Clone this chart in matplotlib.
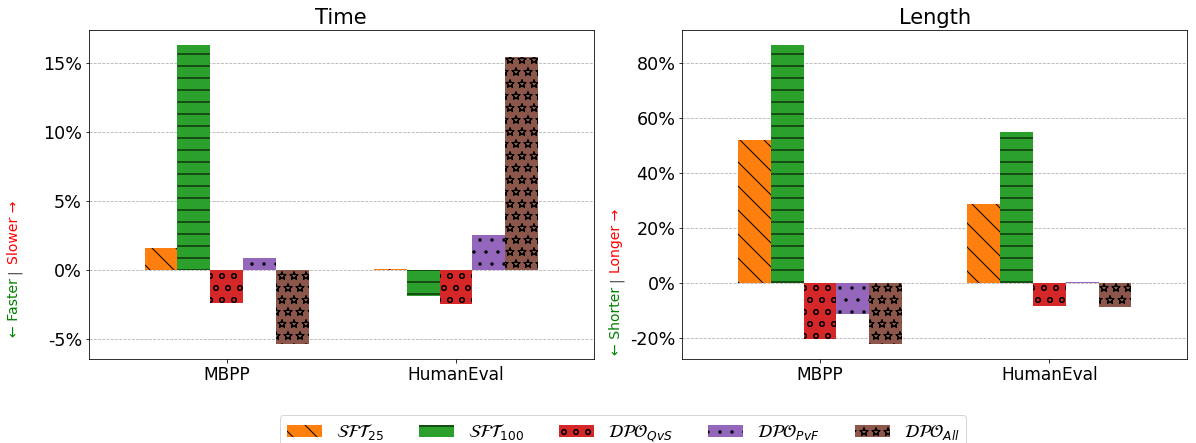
import matplotlib.pyplot as plt
import matplotlib.hatch
import numpy as np
from matplotlib.ticker import FuncFormatter

groups = ["MBPP", "HumanEval"]
labels = [r"$\mathcal{SFT}_{25}$", r"$\mathcal{SFT}_{100}$", r"$\mathcal{DPO}_{QvS}$",
          r"$\mathcal{DPO}_{PvF}$", r"$\mathcal{DPO}_{All}$"]
colors = ["#ff7f0e", "#2ca02c", "#d62728", "#9467bd", "#8c564b"]
hatches = ["\\", "-", "o", ".", "*"]

# percent change, one list per method: [MBPP, HumanEval]
time_vals = [[1.6, 0.05], [16.3, -1.95], [-2.4, -2.5], [0.87, 2.5], [-5.4, 15.4]]
length_vals = [[52.1, 28.6], [86.5, 55.0], [-20.3, -8.3], [-11.2, 0.3], [-22.1, -8.7]]

plt.rcParams['hatch.color'] = 'black'
matplotlib.hatch.Stars.filled = False  # outlined stars like the original

W, H = 1196, 443
fig, axes = plt.subplots(1, 2, figsize=(W / 72, H / 72), dpi=72)
fig.subplots_adjust(left=89 / W, right=1187 / W, top=1 - 30 / H, bottom=1 - 359 / H,
                    wspace=0.176)

x = np.arange(len(groups))
w = 0.143
for ax, vals, title in zip(axes, [time_vals, length_vals], ["Time", "Length"]):
    for i in range(5):
        ax.bar(x + (i - 2) * w, vals[i], w, color=colors[i], hatch=hatches[i],
               label=labels[i], linewidth=0)
    ax.set_title(title, fontsize=21)
    ax.set_xticks(x)
    ax.set_xticklabels(groups, fontsize=17)
    ax.tick_params(axis='y', labelsize=17.5)
    ax.set_xlim(-0.6, 1.6)
    ax.yaxis.grid(True, linestyle='--', color='#b0b0b0')
    ax.set_axisbelow(True)
    ax.yaxis.set_major_formatter(FuncFormatter(lambda v, p: f"{v:.0f}%"))

axes[0].set_yticks([-5, 0, 5, 10, 15])

# coloured y labels, positions in pixels
def ylab(xp, ybar, lo, hi):
    fig.text(xp / W, 1 - (ybar + 7) / H, lo, rotation=90, color='green', fontsize=14,
             ha='center', va='top')
    fig.text(xp / W, 1 - ybar / H, "|", rotation=90, color='#444444', fontsize=14,
             ha='center', va='center')
    fig.text(xp / W, 1 - (ybar - 7) / H, hi, rotation=90, color='red', fontsize=14,
             ha='center', va='bottom')

ylab(14, 271.5, "← Faster", "Slower →")
ylab(616, 280, "← Shorter", "Longer →")

handles, labs = axes[0].get_legend_handles_labels()
fig.legend(handles, labs, loc='upper center', ncol=5, fontsize=17.5,
           bbox_to_anchor=(0.521, 1 - 415 / H), borderaxespad=0)

fig.savefig("out.png", dpi=72)
